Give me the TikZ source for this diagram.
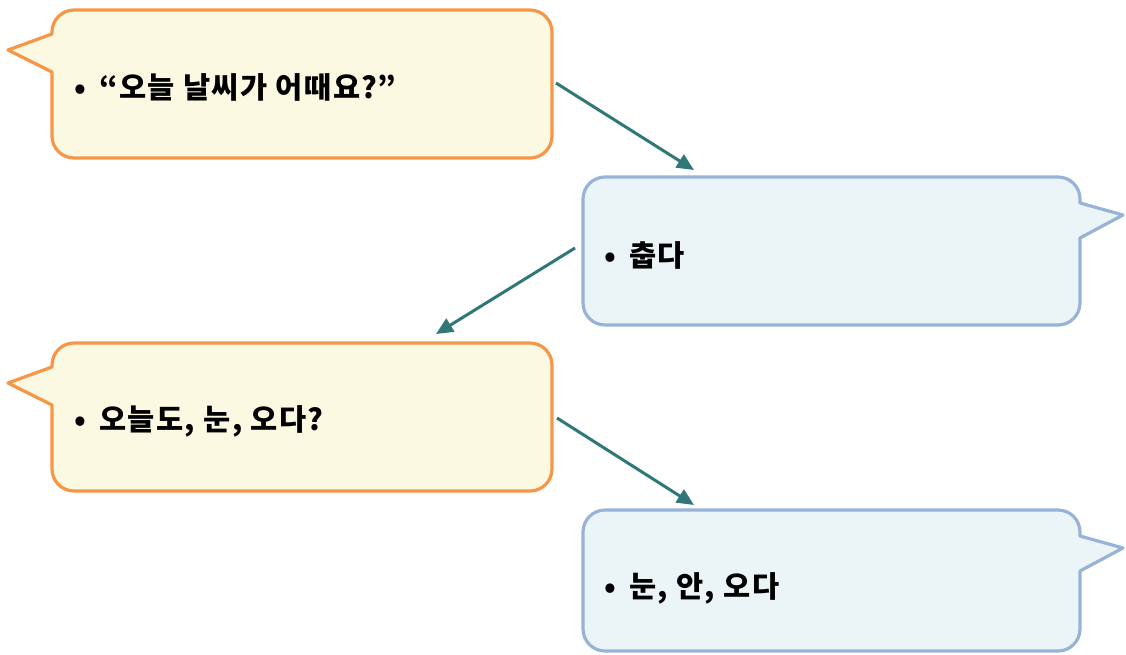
\documentclass[tikz,border=0pt]{standalone}
\usepackage{fontspec}
\newfontfamily\kr{Noto Sans CJK KR}[LetterSpace=5]
\usetikzlibrary{arrows.meta}
\definecolor{obord}{HTML}{F79646}
\definecolor{ofill}{HTML}{FCF9E3}
\definecolor{bbord}{HTML}{97B4D8}
\definecolor{bfill}{HTML}{EBF5F8}
\definecolor{teal}{HTML}{2F7779}
\tikzset{
  ocall/.style={draw=obord,fill=ofill,line width=3.2pt,line join=round},
  bcall/.style={draw=bbord,fill=bfill,line width=3.2pt,line join=round},
  txt/.style={anchor=base west,inner sep=0pt,font=\kr\bfseries\fontsize{29.5}{34}\selectfont,text=black},
  conn/.style={draw=teal,line width=3pt,-{Triangle[length=17pt,width=15pt]}}
}
\begin{document}
\begin{tikzpicture}[x=1pt,y=-1pt]
\useasboundingbox (0,0) rectangle (1126,654);
\def\r{22}
% box 1
\path[ocall] (52,72) -- (8,50) -- (52,34) -- (52,32) arc[start angle=180,end angle=270,radius=\r]
  -- (530,10) arc[start angle=270,end angle=360,radius=\r]
  -- (552,136) arc[start angle=0,end angle=90,radius=\r]
  -- (74,158) arc[start angle=90,end angle=180,radius=\r] -- cycle;
% box 2
\path[bcall] (1080,203) -- (1123,215) -- (1080,238) -- (1080,303) arc[start angle=0,end angle=90,radius=\r]
  -- (605,325) arc[start angle=90,end angle=180,radius=\r]
  -- (583,199) arc[start angle=180,end angle=270,radius=\r]
  -- (1058,177) arc[start angle=270,end angle=360,radius=\r] -- cycle;
% box 3
\path[ocall] (52,405) -- (8,383) -- (52,367) -- (52,365) arc[start angle=180,end angle=270,radius=\r]
  -- (530,343) arc[start angle=270,end angle=360,radius=\r]
  -- (552,469) arc[start angle=0,end angle=90,radius=\r]
  -- (74,491) arc[start angle=90,end angle=180,radius=\r] -- cycle;
% box 4
\path[bcall] (1080,536) -- (1123,548) -- (1080,571) -- (1080,629) arc[start angle=0,end angle=90,radius=\r]
  -- (605,651) arc[start angle=90,end angle=180,radius=\r]
  -- (583,532) arc[start angle=180,end angle=270,radius=\r]
  -- (1058,510) arc[start angle=270,end angle=360,radius=\r] -- cycle;
% texts
\node[txt] (t1) at (74,98) {•\, “오늘 날씨가 어때요?”};
\node[txt] (t2) at (604,266) {•\, 춥다};
\node[txt] (t3) at (74,430) {•\, 오늘도, 눈, 오다?};
\node[txt] (t4) at (604,597) {•\, 눈, 안, 오다};
% connectors
\coordinate (a1s) at (556,83);
\coordinate (a1e) at (694,170);
\coordinate (a2s) at (575,248);
\coordinate (a2e) at (436,334);
\coordinate (a3s) at (557,418);
\coordinate (a3e) at (694,505);
\draw[conn] (a1s) -- (a1e);
\draw[conn] (a2s) -- (a2e);
\draw[conn] (a3s) -- (a3e);
\end{tikzpicture}
\end{document}
